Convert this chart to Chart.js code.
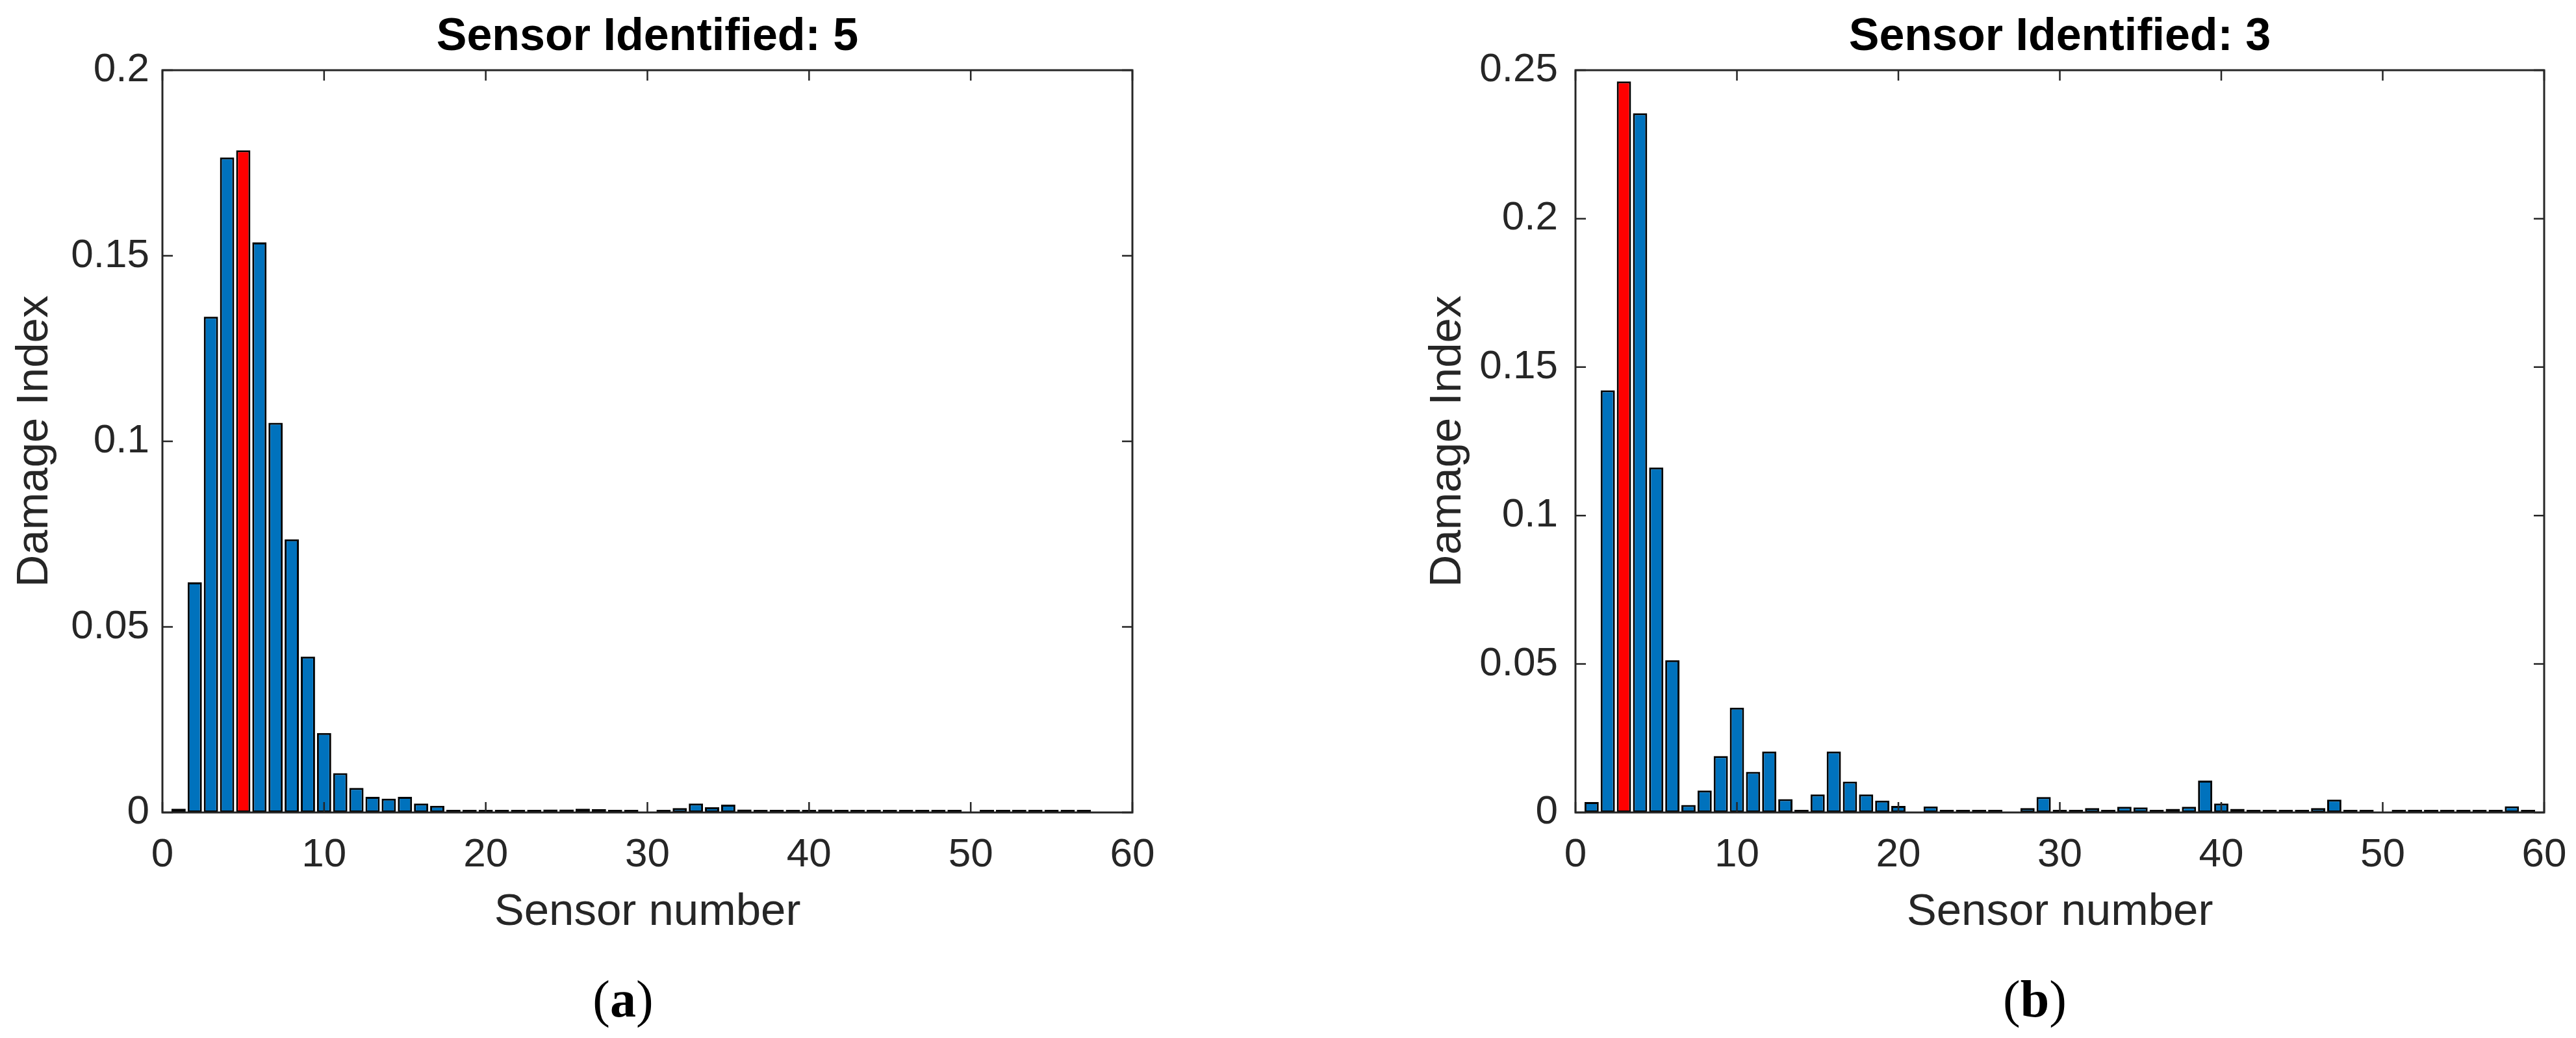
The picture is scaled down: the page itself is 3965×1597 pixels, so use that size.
<!DOCTYPE html>
<html>
<head>
    <title>Damage Index per Sensor</title>
    <script src="https://cdn.jsdelivr.net/npm/chart.js"></script>
    <style>
        body {
            margin: 0;
            background-color: #ffffff;
            width: 3965px;
            height: 1597px;
            overflow: hidden;
            position: relative;
        }
        canvas {
            position: absolute;
            top: 0;
        }
        .caption {
            position: absolute;
            width: 300px;
            text-align: center;
            font-family: "Liberation Serif", "Times New Roman", serif;
            font-size: 80px;
            line-height: 80px;
            color: #000;
        }
    </style>
</head>
<body>
    <canvas id="chartA" width="1800" height="1450" style="left:0px"></canvas>
    <canvas id="chartB" width="1790" height="1450" style="left:2175px"></canvas>
    <div class="caption" style="left:809px; top:1497px">(<b>a</b>)</div>
    <div class="caption" style="left:2982px; top:1497px">(<b>b</b>)</div>

    <script>
        // sensor numbers and damage index (null = no bar drawn)
        const sensorsA = [1, 2, 3, 4, 5, 6, 7, 8, 9, 10, 11, 12, 13, 14, 15, 16, 17, 18, 19, 20,
            21, 22, 23, 24, 25, 26, 27, 28, 29, 30, 31, 32, 33, 34, 35, 36, 37, 38, 39, 40,
            41, 42, 43, 44, 45, 46, 47, 48, 49, 50, 51, 52, 53, 54, 55, 56, 57];
        const damageA = [0.0010, 0.0620, 0.1336, 0.1765, 0.1784, 0.1536, 0.1050, 0.0736, 0.0420, 0.0214,
            0.0106, 0.0066, 0.0042, 0.0037, 0.0042, 0.0024, 0.0018, 0.0006, 0.0002, 0.0002,
            0.0002, 0.0002, 0.0002, 0.0008, 0.0008, 0.0010, 0.0009, 0.0007, 0.0002, null,
            0.0003, 0.0012, 0.0024, 0.0014, 0.0021, 0.0008, 0.0003, 0.0002, 0.0002, 0.0005,
            0.0008, 0.0005, 0.0005, 0.0003, 0.0002, 0.0002, 0.0002, 0.0002, 0.0002, null,
            0.0002, 0.0002, 0.0002, 0.0002, 0.0002, 0.0002, 0.0002];
        const identifiedA = 5;

        const sensorsB = [1, 2, 3, 4, 5, 6, 7, 8, 9, 10, 11, 12, 13, 14, 15, 16, 17, 18, 19, 20,
            21, 22, 23, 24, 25, 26, 27, 28, 29, 30, 31, 32, 33, 34, 35, 36, 37, 38, 39, 40,
            41, 42, 43, 44, 45, 46, 47, 48, 49, 50, 51, 52, 53, 54, 55, 56, 57, 58, 59];
        const damageB = [0.0035, 0.1422, 0.2462, 0.2355, 0.1162, 0.0513, 0.0025, 0.0074, 0.0190, 0.0353,
            0.0137, 0.0205, 0.0045, 0.0007, 0.0061, 0.0205, 0.0104, 0.0061, 0.0040, 0.0022,
            null, 0.0020, 0.0002, 0.0005, 0.0005, 0.0003, null, 0.0015, 0.0052, 0.0002,
            0.0009, 0.0015, 0.0002, 0.0019, 0.0017, 0.0003, 0.0012, 0.0019, 0.0107, 0.0030,
            0.0012, 0.0005, 0.0005, 0.0002, 0.0002, 0.0015, 0.0043, 0.0009, 0.0003, null,
            0.0005, 0.0002, 0.0005, 0.0005, 0.0003, 0.0002, 0.0002, 0.0021, 0.0002];
        const identifiedB = 3;

        // tick labels
        const xTicks = [0, 10, 20, 30, 40, 50, 60];
        const yTicksA = [0, 0.05, 0.1, 0.15, 0.2];
        const yTicksB = [0, 0.05, 0.1, 0.15, 0.2, 0.25];

        const BLUE = 'rgb(0, 114, 189)';
        const RED = 'rgb(255, 0, 0)';
        const AXIS = '#262626';

        Chart.defaults.font.family = '"Liberation Sans", Arial, Helvetica, sans-serif';
        Chart.defaults.color = AXIS;

        // matlab style box with inward ticks on all four sides
        const boxPlugin = {
            id: 'matlabBox',
            afterDatasetsDraw(chart) {
                const ctx = chart.ctx;
                const area = chart.chartArea;
                const xs = chart.scales.x;
                const ys = chart.scales.y;
                const len = 16;
                ctx.save();
                ctx.strokeStyle = AXIS;
                ctx.lineWidth = 2.5;
                ctx.beginPath();
                xs.ticks.forEach(t => {
                    const px = xs.getPixelForValue(t.value);
                    ctx.moveTo(px, area.bottom);
                    ctx.lineTo(px, area.bottom - len);
                    ctx.moveTo(px, area.top);
                    ctx.lineTo(px, area.top + len);
                });
                ys.ticks.forEach(t => {
                    const py = ys.getPixelForValue(t.value);
                    ctx.moveTo(area.left, py);
                    ctx.lineTo(area.left + len, py);
                    ctx.moveTo(area.right, py);
                    ctx.lineTo(area.right - len, py);
                });
                ctx.stroke();
                ctx.lineWidth = 3;
                ctx.strokeRect(area.left, area.top, area.right - area.left, area.bottom - area.top);
                ctx.restore();
            }
        };

        function createChart(canvasId, sensors, damage, identified, yTicks, rightPad, labelGap) {
            const ctx = document.getElementById(canvasId).getContext('2d');
            return new Chart(ctx, {
                type: 'bar',
                data: {
                    datasets: [{
                        data: sensors.map((s, i) => ({ x: s, y: damage[i] })),
                        backgroundColor: sensors.map(s => s === identified ? RED : BLUE),
                        borderColor: '#000000',
                        borderWidth: 3,
                        borderSkipped: false,
                        minBarLength: 4,
                        barPercentage: 0.88,
                        categoryPercentage: 1.0
                    }]
                },
                options: {
                    responsive: false,
                    animation: false,
                    devicePixelRatio: 1,
                    layout: { padding: { left: 0, right: rightPad, top: 0, bottom: 0 } },
                    plugins: {
                        legend: { display: false },
                        tooltip: { enabled: false },
                        title: {
                            display: true,
                            fullSize: false,
                            text: 'Sensor Identified: ' + identified,
                            color: '#000000',
                            font: { size: 70, weight: 'bold', lineHeight: 1.2 },
                            padding: { top: 16, bottom: 8 }
                        }
                    },
                    scales: {
                        x: {
                            type: 'linear',
                            offset: false,
                            min: 0,
                            max: 60,
                            grid: { display: false, drawTicks: false },
                            border: { display: false },
                            afterBuildTicks: s => { s.ticks = xTicks.map(v => ({ value: v })); },
                            afterFit: s => { s.height = 200; s.paddingLeft = 0; s.paddingRight = 0; },
                            ticks: {
                                padding: 29,
                                maxRotation: 0,
                                autoSkip: false,
                                font: { size: 62, lineHeight: 1.2 },
                                callback: v => String(v)
                            },
                            title: {
                                display: true,
                                text: 'Sensor number',
                                color: AXIS,
                                font: { size: 69, lineHeight: 1.2 },
                                padding: { top: 0, bottom: 5 }
                            }
                        },
                        y: {
                            min: 0,
                            max: yTicks[yTicks.length - 1],
                            grid: { display: false, drawTicks: false },
                            border: { display: false },
                            afterBuildTicks: s => { s.ticks = yTicks.map(v => ({ value: v })); },
                            afterFit: s => { s.width = 250; s.paddingTop = 0; s.paddingBottom = 0; },
                            ticks: {
                                padding: labelGap,
                                autoSkip: false,
                                font: { size: 62, lineHeight: 1.2 },
                                callback: v => String(+v.toFixed(3))
                            },
                            title: {
                                display: true,
                                text: 'Damage Index',
                                color: AXIS,
                                font: { size: 69, lineHeight: 1.2 },
                                padding: { top: 13, bottom: 0 }
                            }
                        }
                    }
                },
                plugins: [boxPlugin]
            });
        }

        createChart('chartA', sensorsA, damageA, identifiedA, yTicksA, 57, 20);
        createChart('chartB', sensorsB, damageB, identifiedB, yTicksB, 49, 27);
    </script>
</body>
</html>
